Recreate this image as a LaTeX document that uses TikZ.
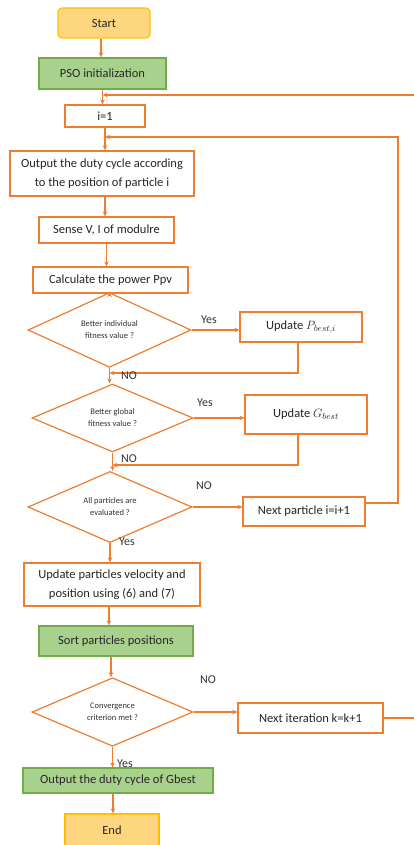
\documentclass[tikz,border=0pt]{standalone}
\usepackage{fontspec}
\setmainfont{Carlito}
\usetikzlibrary{shapes.geometric,arrows.meta}
\definecolor{orng}{HTML}{ED7D31}
\definecolor{grn}{HTML}{70AD47}
\definecolor{grnfill}{HTML}{A9D18E}
\definecolor{yel}{HTML}{FFC000}
\definecolor{yelfill}{HTML}{FFD680}
\begin{document}
\begin{tikzpicture}[x=1pt,y=-1pt,
  box/.style={draw=orng, line width=1.2pt, fill=white, inner sep=0pt, align=center,
    font=\fontsize{12.5}{18.5}\selectfont, text=black!85},
  greenbox/.style={box, draw=grn, fill=grnfill},
  yelbox/.style={box, draw=yel, fill=yelfill},
  dec/.style={diamond, draw=orng, line width=1.2pt, fill=white, inner sep=0pt, align=center,
    font=\fontsize{8.5}{12}\selectfont, text=black!80},
  con/.style={draw=orng, line width=1.2pt},
  arr/.style={con, -{Stealth[length=5pt,width=4.5pt]}},
  lbl/.style={font=\fontsize{12}{14}\selectfont, text=black!80, inner sep=0pt}]
\useasboundingbox (0,0) rectangle (413,845);

\node[yelbox, rounded corners=4pt, minimum width=92pt, minimum height=30pt] (start) at (104,23) {Start};
\node[greenbox, minimum width=127pt, minimum height=31pt] (pso) at (102.5,73.5) {PSO initialization};
\node[box, minimum width=80pt, minimum height=22pt] (i1) at (105,116) {i=1};
\node[box, minimum width=184pt, minimum height=45pt] (out) at (102,173.5) {Output the duty cycle according\\to the position of particle i};
\node[box, minimum width=135pt, minimum height=26pt] (sense) at (106.5,230) {Sense V, I of modulre};
\node[box, minimum width=155pt, minimum height=26pt] (calc) at (110.5,280) {Calculate the power Ppv};
\node[dec, minimum width=163pt, minimum height=66pt] (d1) at (109.5,330) {Better individual\\fitness value ?};
\node[box, minimum width=122pt, minimum height=30pt] (updP) at (301,327) {Update \(P_{best,i}\)};
\node[dec, minimum width=161pt, minimum height=68pt] (d2) at (112.5,418) {Better global\\fitness value ?};
\node[box, minimum width=122pt, minimum height=39pt] (updG) at (306,414.5) {Update \(G_{best}\)};
\node[dec, minimum width=164pt, minimum height=68pt] (d3) at (110,507) {All particles are\\evaluated ?};
\node[box, minimum width=122pt, minimum height=29pt] (nextp) at (304,511.5) {Next particle i=i+1};
\node[box, minimum width=176pt, minimum height=43pt] (upd) at (112,584.5) {Update particles velocity and\\position using (6) and (7)};
\node[greenbox, minimum width=154pt, minimum height=30pt] (sort) at (116,641) {Sort particles positions};
\node[dec, minimum width=161pt, minimum height=68pt] (d4) at (112.5,712) {Convergence\\criterion met ?};
\node[box, minimum width=145pt, minimum height=30pt] (nexti) at (310.5,718) {Next iteration k=k+1};
\node[greenbox, minimum width=190pt, minimum height=25pt] (gbest) at (118,780.5) {Output the duty cycle of Gbest};
\node[yelbox, minimum width=94pt, minimum height=32pt] (end) at (112,830) {End};

% main spine
\draw[arr] (start.south -| pso.north) ++(-1.5,0) coordinate (s0) -- (s0 |- pso.north);
\draw[arr] (pso.south) -- (pso.south |- i1.north);
\draw[arr] (i1.south) -- (i1.south |- out.north);
\draw[arr] (out.south -| sense.north) ++(-1.5,0) coordinate (s1) -- (s1 |- sense.north);
\draw[arr] (sense.south) ++(0,0) coordinate (s2) -- (s2 |- calc.north);
\draw[arr] (calc.south -| d1.north) -- (d1.north);
\draw[arr] (d1.south) -- (d1.south |- d2.north);
\draw[arr] (d2.south) -- (d2.south |- d3.north);
\draw[arr] (d3.south) -- (d3.south |- upd.north);
\draw[arr] (upd.south) ++(-3,0) coordinate (s3) -- (s3 |- sort.north);
\draw[arr] (sort.south -| d4.north) ++(-1.5,0) coordinate (s4) -- (s4 |- d4.north);
\draw[arr] (d4.south) -- (d4.south |- gbest.north);
\draw[arr] (gbest.south -| end.north) ++(1,0) coordinate (s5) -- (s5 |- end.north);

% yes branches
\draw[arr] (d1.east) -- (d1.east -| updP.west);
\draw[arr] (d2.east) -- (d2.east -| updG.west);
\draw[arr] (d3.east) -- (d3.east -| nextp.west);
\draw[arr] (d4.east) -- (d4.east -| nexti.west);

% returns
\coordinate (c1) at (298,373);
\draw[arr] (updP.south -| c1) -- (c1) -- (d1.south |- c1);
\coordinate (c2) at (298,465);
\draw[arr] (updG.south -| c2) -- (c2) -- (d2.south |- c2);
\coordinate (r1) at (398,137);
\draw[arr] ([yshift=8.5pt]nextp.east) -- ([yshift=8.5pt]nextp.east -| r1) -- (r1) -- (i1.south |- r1);
\coordinate (r2) at (418,95);
\draw[arr] (nexti.east) -- (nexti.east -| r2) -- (r2) -- (pso.south |- r2);

% labels
\node[lbl] (y1) at (209,320) {Yes};
\node[lbl] (y2) at (205,403) {Yes};
\node[lbl] (n1) at (129,376) {NO};
\node[lbl] (n2) at (129,459) {NO};
\node[lbl] (n3) at (204,486) {NO};
\node[lbl] (y3) at (127,542) {Yes};
\node[lbl] (n4) at (208,680) {NO};
\node[lbl] (y4) at (125,764) {Yes};
\end{tikzpicture}
\end{document}
